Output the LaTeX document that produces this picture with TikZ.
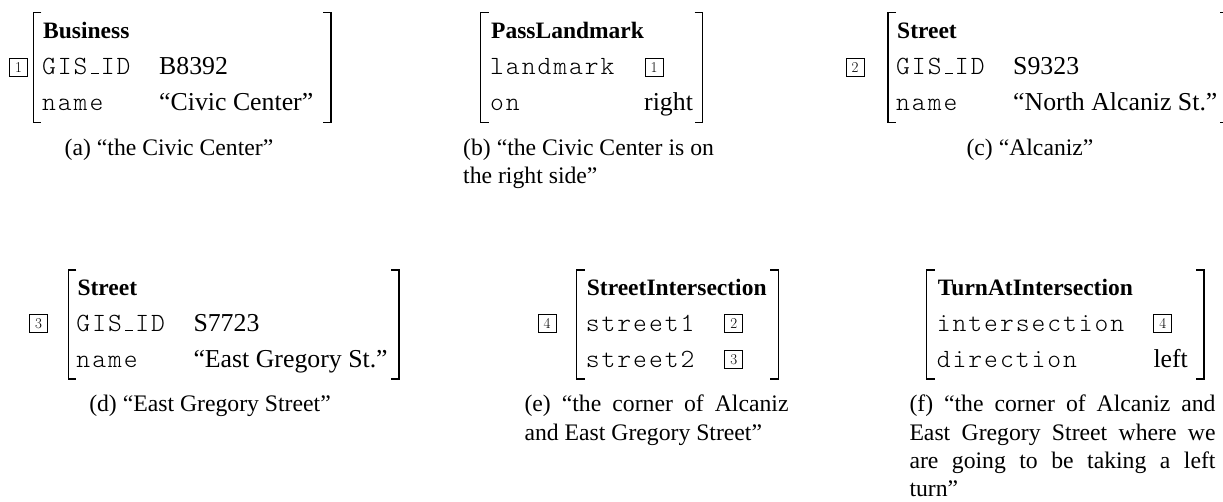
\documentclass[tikz,border=0pt]{standalone}
\usepackage{fontspec}
\setmainfont{Liberation Serif}
\ExplSyntaxOn
\NewDocumentCommand\sptt{m}{\tl_map_inline:nn {#1} {\kern 0.0375em ##1\kern 0.0375em}}
\ExplSyntaxOff
\newcommand\usc{\kern.0975em\rule{.3em}{0.9pt}\kern.0375em}
\tikzset{
  hd/.style={anchor=base west, inner sep=0pt, font=\fontsize{23.5}{28}\selectfont\bfseries},
  vl/.style={anchor=base west, inner sep=0pt, font=\fontsize{25.8}{30}\selectfont},
  ky/.style={anchor=base west, inner sep=0pt, font=\fontsize{26.3}{30}\fontfamily{lmtt}\fontseries{l}\selectfont},
  tag/.style={draw, line width=0.7pt, minimum width=18pt, minimum height=18pt, inner sep=0pt,
    font=\fontsize{15}{16}\fontfamily{lmr}\selectfont},
  captxt/.style={inner sep=0pt, font=\fontsize{23.7}{28.3}\selectfont},
  capl/.style={captxt, anchor=base west},
  brk/.style={line width=1.3pt}
}
\begin{document}
\begin{tikzpicture}[x=1pt, y=-1pt]
\useasboundingbox (0,0) rectangle (1223,501);

% ---------- (a) ----------
\node[tag] (a-tag) at (18.5,67.5) {1};
\draw[brk] (41.3,12.7) -| (33.3,122.7) -- ++(8,0);
\draw[brk] (323,12.7) -| (331,122.7) -- ++(-8,0);
\node[hd] (a-head) at (43,38) {Business};
\node[ky] (a-k1) at (41,74) {\sptt{GIS}\usc\sptt{ID}};
\node[vl] (a-v1) at (159,74) {B8392};
\node[ky] (a-k2) at (41,110) {\sptt{name}};
\node[vl] (a-v2) at (159,110) {“Civic Center”};
\node[captxt, anchor=base] (a-cap) at (169,155) {(a) “the Civic Center”};

% ---------- (b) ----------
\draw[brk] (488.7,12.7) -| (480.7,122.7) -- ++(8,0);
\draw[brk] (694.7,12.7) -| (702.7,122.7) -- ++(-8,0);
\node[hd] (b-head) at (491,38) {PassLandmark};
\node[ky] (b-k1) at (489,74) {\sptt{landmark}};
\node[tag] (b-v1) at (654,67.5) {1};
\node[ky] (b-k2) at (489,110) {\sptt{on}};
\node[vl] (b-v2) at (644,110) {right};
\node[capl] (b-cap1) at (463,155) {(b) “the Civic Center is on};
\node[capl] (b-cap2) at (463,183.3) {the right side”};

% ---------- (c) ----------
\node[tag] (c-tag) at (855,67.5) {2};
\draw[brk] (896,12.7) -| (888,122.7) -- ++(8,0);
\draw[brk] (1220,12.7) -| (1228,122.7) -- ++(-8,0);
\node[hd] (c-head) at (897,38) {Street};
\node[ky] (c-k1) at (895,74) {\sptt{GIS}\usc\sptt{ID}};
\node[vl] (c-v1) at (1013,74) {S9323};
\node[ky] (c-k2) at (895,110) {\sptt{name}};
\node[vl] (c-v2) at (1013,110) {“North Alcaniz St.”};
\node[captxt, anchor=base] (c-cap) at (1030,155) {(c) “Alcaniz”};

% ---------- (d) ----------
\node[tag] (d-tag) at (38.5,323.5) {3};
\draw[brk] (76.3,270) -| (68.3,379) -- ++(8,0);
\draw[brk] (391,270) -| (399,379) -- ++(-8,0);
\node[hd] (d-head) at (77.3,295) {Street};
\node[ky] (d-k1) at (75.3,331) {\sptt{GIS}\usc\sptt{ID}};
\node[vl] (d-v1) at (193.3,331) {S7723};
\node[ky] (d-k2) at (75.3,367) {\sptt{name}};
\node[vl] (d-v2) at (193.3,367) {“East Gregory St.”};
\node[captxt, anchor=base] (d-cap) at (210,411.7) {(d) “East Gregory Street”};

% ---------- (e) ----------
\node[tag] (e-tag) at (547,323.5) {4};
\draw[brk] (584.7,270) -| (576.7,379) -- ++(8,0);
\draw[brk] (770.3,270) -| (778.3,379) -- ++(-8,0);
\node[hd] (e-head) at (586.7,295) {StreetIntersection};
\node[ky] (e-k1) at (584.7,331) {\sptt{street1}};
\node[tag] (e-v1) at (733.8,323.5) {2};
\node[ky] (e-k2) at (584.7,367) {\sptt{street2}};
\node[tag] (e-v2) at (733.8,359.5) {3};
\node[capl] (e-cap1) at (524.3,411.7) {\makebox[264pt][s]{(e) “the corner of Alcaniz}};
\node[capl] (e-cap2) at (524.3,440) {and East Gregory Street”};

% ---------- (f) ----------
\draw[brk] (934.7,270) -| (926.7,379) -- ++(8,0);
\draw[brk] (1196,270) -| (1204,379) -- ++(-8,0);
\node[hd] (f-head) at (937.7,295) {TurnAtIntersection};
\node[ky] (f-k1) at (935.7,331) {\sptt{intersection}};
\node[tag] (f-v1) at (1162.8,323.5) {4};
\node[ky] (f-k2) at (935.7,367) {\sptt{direction}};
\node[vl] (f-v2) at (1153.3,367) {left};
\node[capl] (f-cap1) at (909.3,411.7) {\makebox[306pt][s]{(f) “the corner of Alcaniz and}};
\node[capl] (f-cap2) at (909.3,440) {\makebox[306pt][s]{East Gregory Street where we}};
\node[capl] (f-cap3) at (909.3,468.3) {\makebox[306pt][s]{are going to be taking a left}};
\node[capl] (f-cap4) at (909.3,496.6) {turn”};
\end{tikzpicture}
\end{document}
